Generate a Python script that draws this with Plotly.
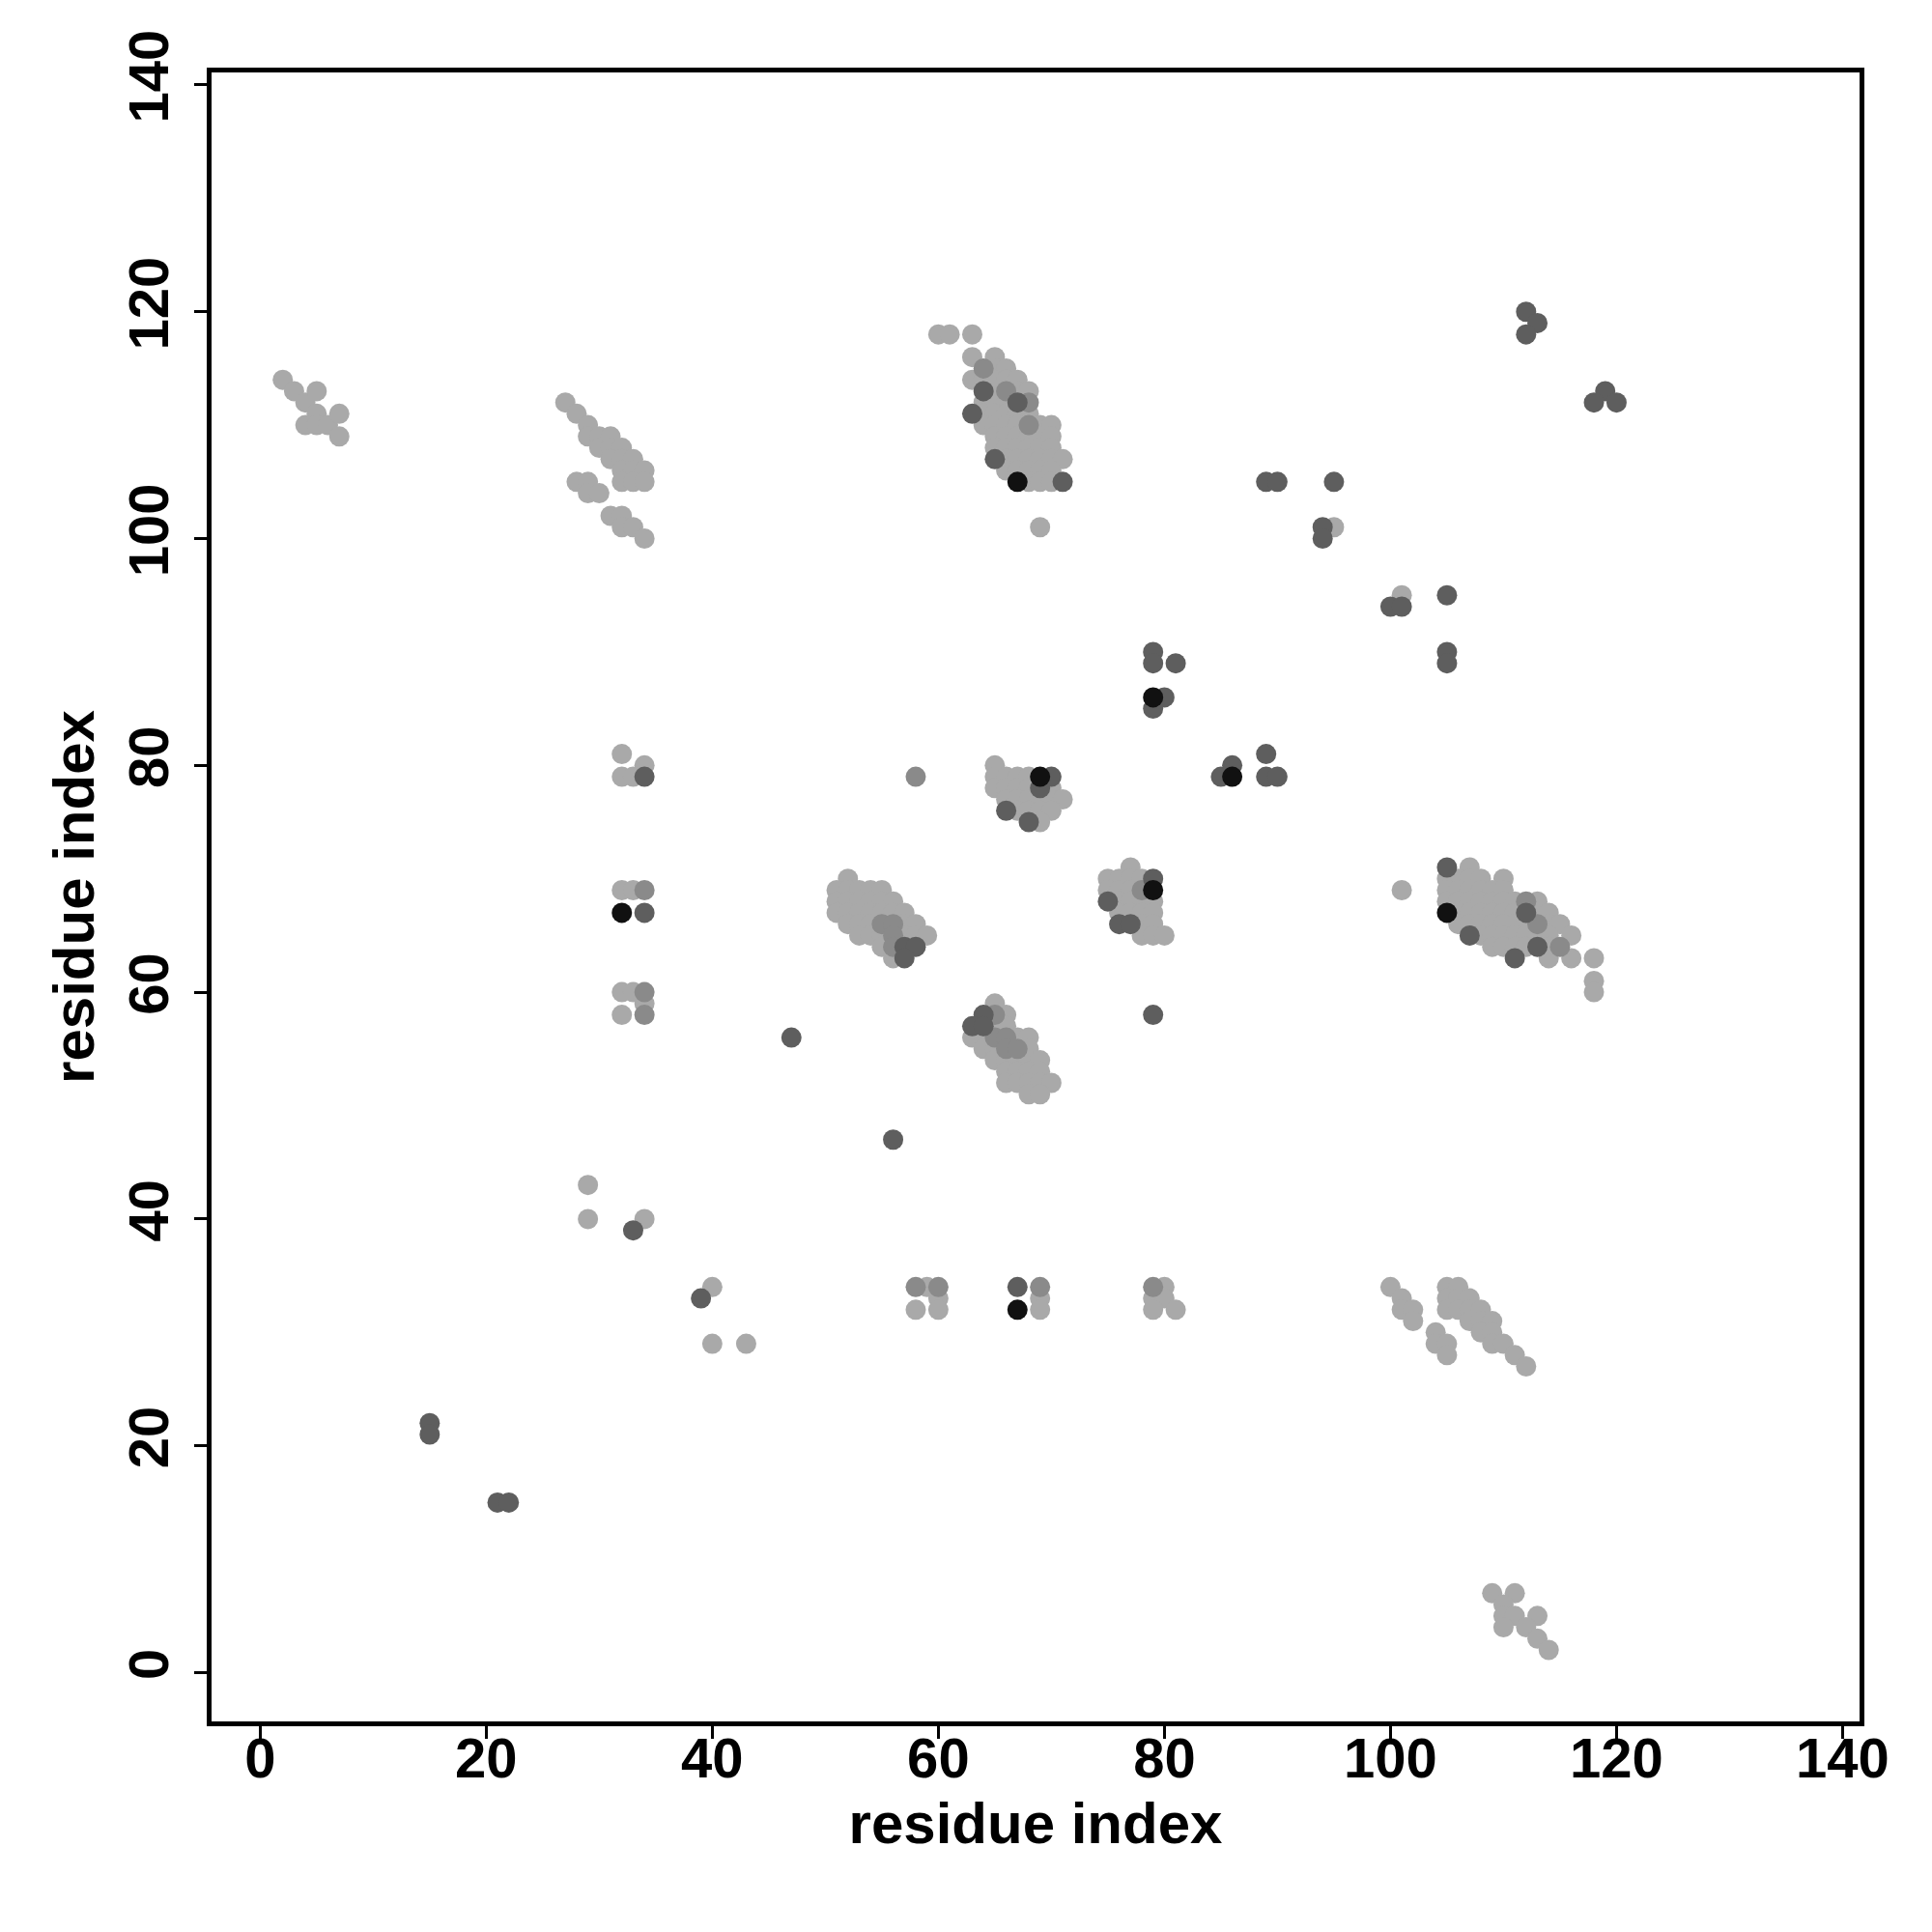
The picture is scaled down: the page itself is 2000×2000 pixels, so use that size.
import plotly.graph_objects as go

# contact points (residue i, residue j) grouped by gray level
light_pts = [
    (2,114),(3,113),(4,112),(5,113),(5,111),(4,110),(5,110),(6,110),(7,111),(7,109),
    (27,112),(28,111),(29,110),(29,109),(30,109),(31,109),(30,108),(31,108),(32,108),(31,107),
    (32,107),(33,107),(32,106),(33,106),(34,106),(32,105),(33,105),(34,105),(28,105),(29,105),
    (29,104),(30,104),(31,102),(32,102),(32,101),(33,101),(34,100),
    (60,118),(61,118),(63,118),(63,116),(65,116),(65,115),(66,115),
    (63,114),(64,114),(65,114),(66,114),(67,114),(65,113),(67,113),(68,113),
    (64,112),(65,112),(66,112),(64,111),(65,111),(66,111),(67,111),(68,111),
    (64,110),(65,110),(66,110),(67,110),(69,110),(70,110),
    (65,109),(66,109),(67,109),(68,109),(69,109),(70,109),
    (65,108),(66,108),(67,108),(68,108),(69,108),(70,108),
    (66,107),(67,107),(68,107),(69,107),(70,107),(71,107),
    (66,106),(67,106),(68,106),(69,106),(70,106),(68,105),(69,105),(70,105),(69,101),
    (95,101),(101,95),
    (32,81),(32,79),(33,79),(34,80),(32,69),(33,69),(32,60),(33,60),(34,59),(32,58),
    (52,70),(51,69),(52,69),(53,69),(54,69),(55,69),(51,68),(52,68),(53,68),(54,68),(55,68),(56,68),
    (51,67),(52,67),(53,67),(54,67),(55,67),(56,67),(57,67),(52,66),(53,66),(54,66),(57,66),(58,66),
    (53,65),(54,65),(55,65),(57,65),(58,65),(59,65),(55,64),(56,63),
    (65,80),(65,79),(66,79),(67,79),(68,79),(65,78),(66,78),(67,78),(68,78),(70,78),
    (66,77),(67,77),(68,77),(69,77),(70,77),(71,77),(67,76),(68,76),(69,76),(70,76),(69,75),
    (65,59),(66,58),(65,57),(66,57),(63,56),(64,56),(67,56),(68,56),(64,55),(65,55),(68,55),
    (65,54),(66,54),(67,54),(68,54),(69,54),(66,53),(67,53),(68,53),(69,53),
    (66,52),(67,52),(68,52),(69,52),(70,52),(68,51),(69,51),
    (77,71),(75,70),(76,70),(77,70),(78,70),(75,69),(76,69),(77,69),(76,68),(77,68),(78,68),(79,68),
    (76,67),(77,67),(78,67),(79,67),(78,66),(79,66),(78,65),(79,65),(80,65),
    (101,69),(107,71),(105,70),(106,70),(107,70),(108,70),(110,70),
    (105,69),(106,69),(107,69),(108,69),(109,69),(110,69),
    (105,68),(106,68),(107,68),(108,68),(109,68),(110,68),(111,68),(113,68),
    (106,67),(107,67),(108,67),(109,67),(110,67),(111,67),(113,67),(114,67),
    (106,66),(107,66),(108,66),(109,66),(110,66),(111,66),(112,66),(114,66),(115,66),
    (108,65),(109,65),(110,65),(111,65),(112,65),(113,65),(114,65),(116,65),
    (109,64),(110,64),(111,64),(112,64),(114,64),(114,63),(116,63),(118,63),(118,61),(118,60),
    (29,43),(29,40),(34,40),(40,34),(40,29),(43,29),(59,34),(60,33),(58,32),(60,32),
    (69,33),(69,32),(80,34),(79,33),(80,33),(79,32),(81,32),
    (100,34),(101,33),(101,32),(102,32),(102,31),(104,30),(104,29),(105,29),(105,28),
    (105,34),(106,34),(105,33),(105,32),(106,33),(107,33),(106,32),(107,32),(108,32),
    (107,31),(108,31),(109,31),(108,30),(109,30),(109,29),(110,29),(111,28),(112,27),
    (109,7),(111,7),(110,6),(110,5),(111,5),(113,5),(110,4),(112,4),(113,3),(114,2),
]
medium_pts = [
    (64,115),(66,113),(68,112),(68,110),
    (34,69),(34,60),(34,58),
    (55,66),(56,66),(56,65),(56,64),
    (65,58),(65,56),(66,56),(66,55),(67,55),
    (78,69),(58,79),
    (112,68),(113,66),(115,64),
    (58,34),(60,34),(69,34),(79,34),
]
dark_pts = [
    (64,113),(67,112),(63,111),(65,107),(71,105),
    (112,120),(113,119),(112,118),(119,113),(118,112),(120,112),
    (89,105),(90,105),(95,105),(94,101),(94,100),(100,94),(101,94),(105,95),(105,90),(105,89),
    (34,79),(34,67),
    (57,64),(58,64),(57,63),
    (66,76),(68,75),(70,79),(69,78),
    (64,58),(63,57),(64,57),
    (79,90),(79,89),(81,89),(80,86),(79,85),(85,79),(86,80),(89,81),(89,79),(90,79),
    (79,70),(75,68),(76,66),(77,66),(79,58),
    (47,56),(56,47),
    (105,71),(107,65),(112,67),(111,63),(113,64),
    (33,39),(39,33),(67,34),
    (15,22),(15,21),(21,15),(22,15),
]
black_pts = [
    (67,105),(32,67),(69,79),(79,86),(86,79),(79,69),(105,67),(67,32),
]

tick_vals = [0, 20, 40, 60, 80, 100, 120, 140]
axis_label = "residue index"

groups = [
    (light_pts, "#a9a9a9"),
    (medium_pts, "#8a8a8a"),
    (dark_pts, "#5e5e5e"),
    (black_pts, "#111111"),
]

fig = go.Figure()
for pts, col in groups:
    fig.add_trace(go.Scatter(
        x=[p[0] for p in pts], y=[p[1] for p in pts],
        mode="markers",
        marker=dict(size=21, color=col, line=dict(width=0)),
        showlegend=False,
    ))

font_family = "Liberation Sans, Arial, Helvetica, sans-serif"
axis_common = dict(
    tickvals=tick_vals,
    ticks="outside", ticklen=13, tickwidth=3, tickcolor="black",
    showline=True, mirror=True, linewidth=5, linecolor="black",
    showgrid=False, zeroline=False,
    tickfont=dict(family=font_family, size=58, color="black", weight="bold"),
)
fig.update_layout(
    width=2000, height=2000,
    plot_bgcolor="white", paper_bgcolor="white",
    margin=dict(l=211, r=83, t=67, b=226),
    xaxis=dict(range=[-4.3, 141.5], ticklabelstandoff=-30, **axis_common,
               title=dict(text=axis_label, standoff=17,
                          font=dict(family=font_family, size=60, color="black", weight="bold"))),
    yaxis=dict(range=[-4.3, 141.1], tickangle=-90, ticklabelstandoff=4, **axis_common,
               title=dict(text=axis_label, standoff=5,
                          font=dict(family=font_family, size=60, color="black", weight="bold"))),
)
fig.write_html("out.html")
